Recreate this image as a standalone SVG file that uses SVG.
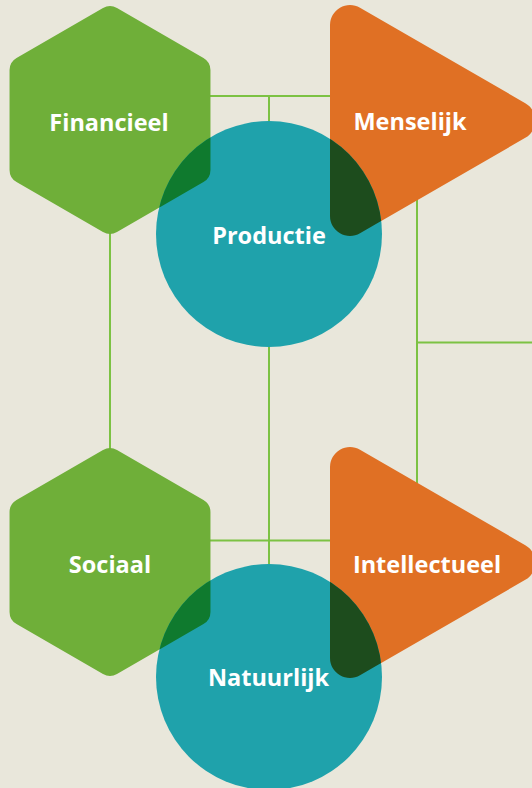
<svg xmlns="http://www.w3.org/2000/svg" width="532" height="788" viewBox="0 0 532 788">
<style>
.bg{fill:#e9e7db}
.ln{stroke:#7cc243;stroke-width:2;fill:none}
.hex{fill:#6faf39}
.tri{fill:#e07024}
.circ{fill:#1fa2ab}
.hexov{fill:#0f7a2e}
.triov{fill:#1d4c1d}
.lbl{font-family:"Open Sans","Liberation Sans",sans-serif;font-weight:700;font-size:23.5px;fill:#ffffff;text-anchor:middle}
</style>
<defs>
<path id="hexshape" d="M7,-111.96 L93.46,-62.04 A14 14 0 0 1 100.46,-49.92 L100.46,49.92 A14 14 0 0 1 93.46,62.04 L7,111.96 A14 14 0 0 1 -7,111.96 L-93.46,62.04 A14 14 0 0 1 -100.46,49.92 L-100.46,-49.92 A14 14 0 0 1 -93.46,-62.04 L-7,-111.96 A14 14 0 0 1 7,-111.96 Z"/>
<path id="trishape" d="M30,-112.78 L195.3,-17.32 A20 20 0 0 1 195.3,17.32 L30,112.78 A20 20 0 0 1 0,95.46 L0,-95.46 A20 20 0 0 1 30,-112.78 Z"/>
<clipPath id="clipProd"><circle cx="269" cy="234" r="113"/></clipPath>
<clipPath id="clipNat"><circle cx="269" cy="677" r="113"/></clipPath>
</defs>
<rect class="bg" x="0" y="0" width="532" height="788"/>
<g id="connectors">
<line class="ln" x1="200" y1="96" x2="340" y2="96"/>
<line class="ln" x1="269" y1="96" x2="269" y2="600"/>
<line class="ln" x1="110" y1="220" x2="110" y2="460"/>
<line class="ln" x1="417" y1="180" x2="417" y2="500"/>
<line class="ln" x1="417" y1="342.5" x2="532" y2="342.5"/>
<line class="ln" x1="200" y1="540.5" x2="340" y2="540.5"/>
</g>
<g id="financieel">
<use href="#hexshape" class="hex" transform="translate(110,120)"/>
</g>
<g id="menselijk">
<use href="#trishape" class="tri" transform="translate(330,120.5)"/>
</g>
<g id="sociaal">
<use href="#hexshape" class="hex" transform="translate(110,562)"/>
</g>
<g id="intellectueel">
<use href="#trishape" class="tri" transform="translate(330,562.5)"/>
</g>
<g id="productie">
<circle class="circ" cx="269" cy="234" r="113"/>
<g clip-path="url(#clipProd)">
<use href="#hexshape" class="hexov" transform="translate(110,120)"/>
<use href="#trishape" class="triov" transform="translate(330,120.5)"/>
</g>
</g>
<g id="natuurlijk">
<circle class="circ" cx="269" cy="677" r="113"/>
<g clip-path="url(#clipNat)">
<use href="#hexshape" class="hexov" transform="translate(110,562)"/>
<use href="#trishape" class="triov" transform="translate(330,562.5)"/>
</g>
</g>
<g id="labels">
<text class="lbl" x="109" y="131">Financieel</text>
<text class="lbl" x="410" y="130">Menselijk</text>
<text class="lbl" x="269" y="244">Productie</text>
<text class="lbl" x="110" y="573">Sociaal</text>
<text class="lbl" x="427" y="573">Intellectueel</text>
<text class="lbl" x="268.5" y="686">Natuurlijk</text>
</g>
</svg>
